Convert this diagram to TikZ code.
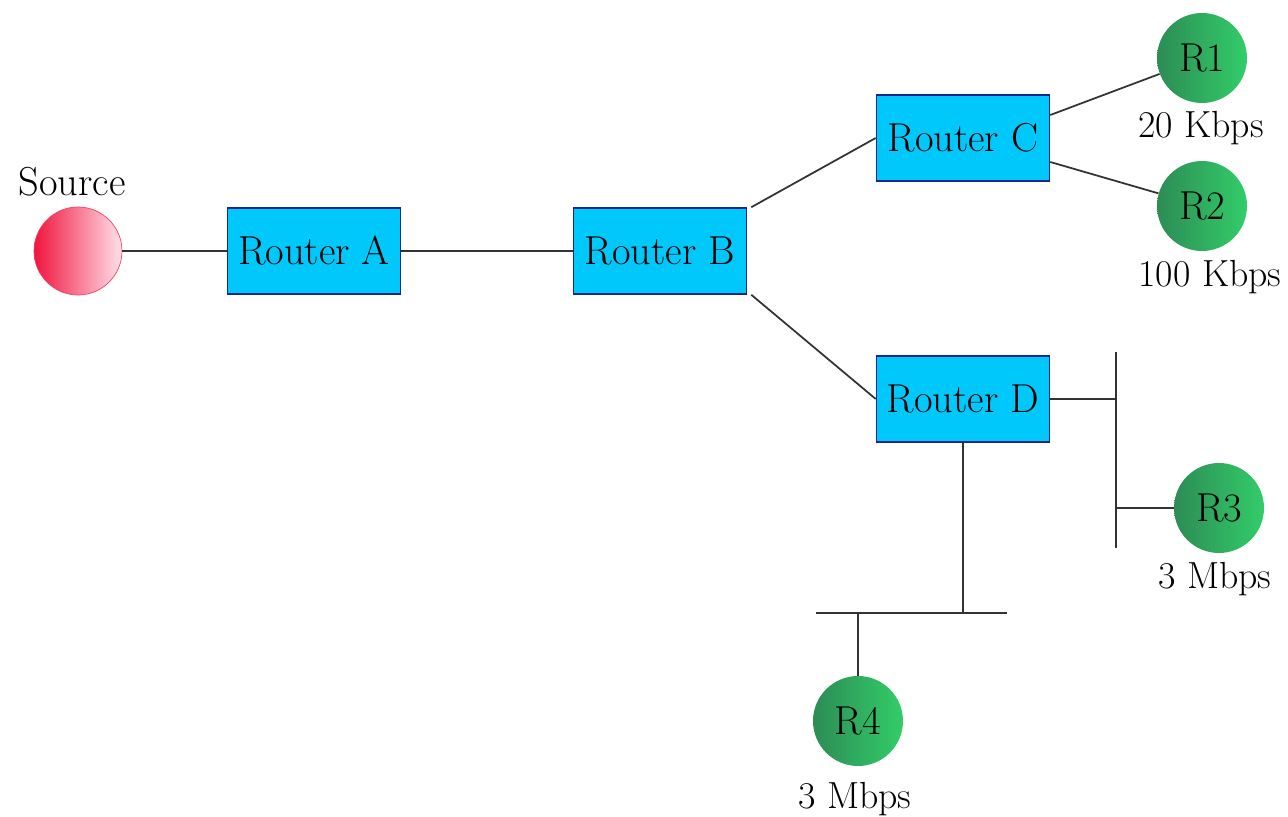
\documentclass[tikz,border=0pt]{standalone}
\usepackage{tikz}
\usetikzlibrary{positioning}
\definecolor{boxcyan}{RGB}{0,200,250}
\definecolor{boxedge}{RGB}{20,40,140}
\definecolor{rcvdark}{RGB}{45,140,85}
\definecolor{rcvlight}{RGB}{50,205,105}
\definecolor{srcred}{RGB}{240,20,60}
\definecolor{srcpink}{RGB}{255,225,235}

\begin{document}
\begin{tikzpicture}[
    x=0.02cm, y=-0.02cm,
    router/.style={rectangle, draw=boxedge, fill=boxcyan, line width=0.9pt, minimum width=3.46cm, minimum height=1.72cm, font=\fontsize{23}{26}\selectfont, inner sep=0pt},
    receiver/.style={circle, left color=rcvdark, right color=rcvlight, minimum size=1.8cm, inner sep=0pt, font=\fontsize{23}{26}\selectfont},
    sender/.style={circle, left color=srcred, right color=srcpink, draw=srcred!80, minimum size=1.76cm, inner sep=0pt},
    rate/.style={font=\fontsize{21.5}{24}\selectfont},
    link/.style={line width=1pt, black!80}
]
\useasboundingbox (0,0) rectangle (1288,817);

% source and routers
\node[sender] (src) at (78,251) {};
\node[font=\fontsize{23}{26}\selectfont] (srclabel) at (72,182) {Source};
\node[router] (ra) at (314,251) {Router A};
\node[router] (rb) at (660,251) {Router B};
\node[router] (rc) at (963,138) {Router C};
\node[router] (rd) at (963,399) {Router D};

% receivers
\node[receiver] (r1) at (1202,58) {R1};
\node[rate] (r1rate) at (1201,128) {20 Kbps};
\node[receiver] (r2) at (1202,206) {R2};
\node[rate] (r2rate) at (1210,277) {100 Kbps};
\node[receiver] (r3) at (1219,508) {R3};
\node[rate] (r3rate) at (1215,579) {3 Mbps};
\node[receiver] (r4) at (858,721) {R4};
\node[rate] (r4rate) at (855,799) {3 Mbps};

% LAN segments
\coordinate (lanatop) at (1116,352);
\coordinate (lanabot) at (1116,548);
\coordinate (lanajoin) at (1116,399);
\coordinate (lanatap) at (1116,508);
\coordinate (lanbleft) at (816,613);
\coordinate (lanbright) at (1007,613);
\coordinate (lanbjoin) at (963,613);
\coordinate (lanbtap) at (858,613);

\draw[link] (src) -- (ra);
\draw[link] (ra) -- (rb);
\draw[link] ([xshift=0.08cm]rb.north east) -- (rc.west);
\draw[link] ([xshift=0.08cm]rb.south east) -- (rd.west);
\draw[link] ([yshift=0.46cm]rc.east) -- (r1);
\draw[link] ([yshift=-0.48cm]rc.east) -- (r2);
\draw[link] (lanatop) -- (lanabot);
\draw[link] (rd.east) -- (lanajoin);
\draw[link] (lanatap) -- (r3);
\draw[link] (lanbleft) -- (lanbright);
\draw[link] (rd.south) -- (lanbjoin);
\draw[link] (lanbtap) -- (r4);
\end{tikzpicture}
\end{document}
